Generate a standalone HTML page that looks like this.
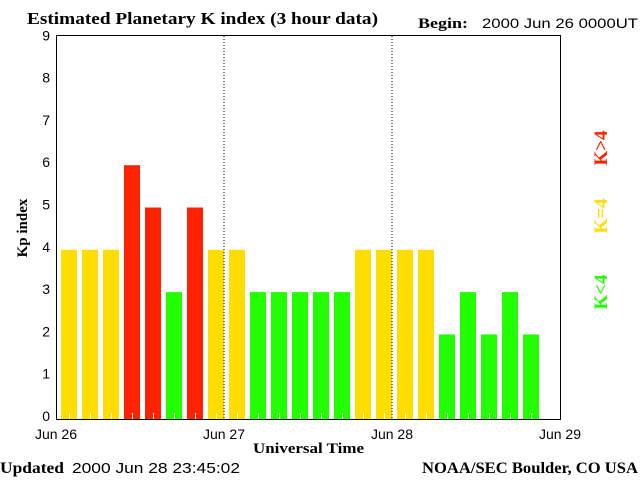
<!DOCTYPE html>
<html><head><meta charset="utf-8"><style>
body{margin:0;background:#fff;width:640px;height:480px;overflow:hidden}
svg{display:block}
.serif{font-family:"Liberation Serif",serif;font-weight:bold}
.sans{font-family:"Liberation Sans",sans-serif}
</style></head><body>
<svg id="chart" width="640" height="480">
<text class="serif" x="27" y="24" font-size="17" textLength="351" lengthAdjust="spacingAndGlyphs">Estimated Planetary K index (3 hour data)</text>
<text class="serif" x="418" y="28" font-size="15" textLength="50" lengthAdjust="spacingAndGlyphs">Begin:</text>
<text class="sans" x="482" y="28" font-size="14" textLength="156" lengthAdjust="spacingAndGlyphs">2000 Jun 26 0000UT</text>
<g id="bars"></g>
<line x1="224" y1="36" x2="224" y2="419" stroke="#000" stroke-dasharray="1,2"/>
<line x1="392" y1="36" x2="392" y2="419" stroke="#000" stroke-dasharray="1,2"/>
<rect x="56.5" y="35.5" width="504" height="384" fill="none" stroke="#000"/>
<g id="yticks"></g>
<g id="xticks"></g>
<text class="serif" x="0" y="0" font-size="15" transform="translate(27,228) rotate(-90)" text-anchor="middle">Kp index</text>
<text class="serif" x="253" y="453" font-size="15" textLength="111" lengthAdjust="spacingAndGlyphs">Universal Time</text>
<text class="serif" x="0" y="473" font-size="16" textLength="64" lengthAdjust="spacingAndGlyphs">Updated</text>
<text class="sans" x="72" y="473" font-size="15" textLength="168" lengthAdjust="spacingAndGlyphs">2000 Jun 28 23:45:02</text>
<text class="serif" x="422" y="473" font-size="16" textLength="216" lengthAdjust="spacingAndGlyphs">NOAA/SEC Boulder, CO USA</text>
<text class="serif" font-size="19" fill="#ff2200" text-anchor="middle" transform="translate(607,148) rotate(-90)">K&gt;4</text>
<text class="serif" font-size="19" fill="#ffdd00" text-anchor="middle" transform="translate(607,216) rotate(-90)">K=4</text>
<text class="serif" font-size="19" fill="#22ff00" text-anchor="middle" transform="translate(607,292) rotate(-90)">K&lt;4</text>
</svg>
<script>
const kpValues = [4,4,4,6,5,3,5,4, 4,3,3,3,3,3,4,4, 4,4,2,3,2,3,2];
const yTickLabels = ["0","1","2","3","4","5","6","7","8","9"];
const xTickLabels = ["Jun 26","Jun 27","Jun 28","Jun 29"];
const NS="http://www.w3.org/2000/svg";
const x0=56, slot=21, y0=419, yUnit=42.3;
function xPos(i){return x0+i*slot;}
function yPos(v){return y0-v*yUnit;}
function color(v){return v<4?"#22ff00":(v===4?"#ffdd00":"#ff2200");}
const bars=document.getElementById("bars");
kpValues.forEach((v,i)=>{
  const r=document.createElementNS(NS,"rect");
  r.setAttribute("x",xPos(i)+5);r.setAttribute("width",16);
  r.setAttribute("y",yPos(v));r.setAttribute("height",y0-yPos(v));
  r.setAttribute("fill",color(v));
  
  
  bars.appendChild(r);
  const t=document.createElementNS(NS,"line");
  t.setAttribute("x1",xPos(i)+13.5);t.setAttribute("x2",xPos(i)+13.5);
  t.setAttribute("y1",y0-6);t.setAttribute("y2",y0);t.setAttribute("stroke","#fff");
  
  
  bars.appendChild(t);
});
const yt=document.getElementById("yticks");
yTickLabels.forEach((l,i)=>{
  const t=document.createElementNS(NS,"text");
  t.setAttribute("x",50);t.setAttribute("y",yPos(i)+2);
  t.setAttribute("text-anchor","end");t.setAttribute("font-size","14");
  t.setAttribute("class","sans");t.textContent=l;
  
  
  yt.appendChild(t);
});
const xt=document.getElementById("xticks");
xTickLabels.forEach((l,i)=>{
  const t=document.createElementNS(NS,"text");
  t.setAttribute("x",x0+i*168);t.setAttribute("y",439);
  t.setAttribute("text-anchor","middle");t.setAttribute("font-size","14");
  t.setAttribute("class","sans");t.textContent=l;
  
  
  xt.appendChild(t);
});
</script>
</body></html>
